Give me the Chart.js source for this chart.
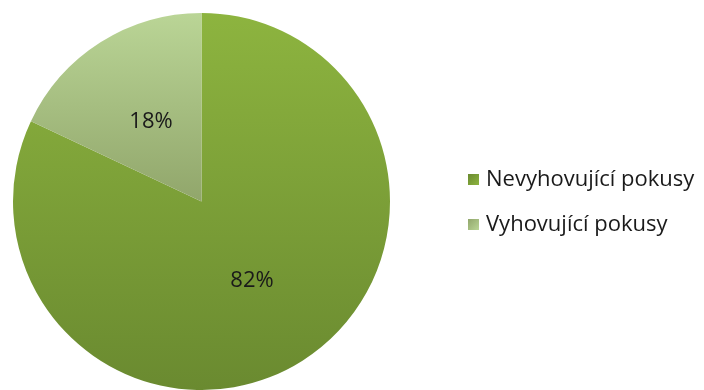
<!DOCTYPE html>
<html>
<head>
<meta charset="utf-8">
<script src="https://cdn.jsdelivr.net/npm/chart.js@4"></script>
<style>
  body { margin: 0; background: #fff; }
  #wrap { position: relative; width: 704px; height: 390px; overflow: hidden; }
  #legend { position: absolute; left: 468px; top: 162px; font-family: 'Open Sans', sans-serif; font-size: 22px; color: #1a1a1a; }
  #legend div { height: 45px; line-height: 30px; white-space: nowrap; }
  #legend span { display: inline-block; width: 11px; height: 11px; margin-right: 7px; vertical-align: 1px; }
</style>
</head>
<body>
<div id="wrap">
  <canvas id="pie" width="704" height="390"></canvas>
  <div id="legend"></div>
</div>
<script>
const labels = ['Nevyhovující pokusy', 'Vyhovující pokusy'];
const values = [82, 18];
// top / bottom colours of each slice's gradient
const topColors = ['#8db43f', '#bad596'];
const bottomColors = ['#6a8a30', '#91a66b'];

function sliceFill(ctx) {
    const area = ctx.chart.chartArea;
    if (!area) return topColors[ctx.dataIndex];
    const cy = (area.top + area.bottom) / 2;
    const r = Math.min(area.right - area.left, area.bottom - area.top) / 2;
    // the small slice lies entirely in the upper half
    const y1 = ctx.dataIndex === 0 ? cy + r : cy;
    const g = ctx.chart.ctx.createLinearGradient(0, cy - r, 0, y1);
    g.addColorStop(0, topColors[ctx.dataIndex]);
    g.addColorStop(1, bottomColors[ctx.dataIndex]);
    return g;
}

const percentLabels = {
    id: 'percentLabels',
    afterDatasetsDraw(chart) {
        const c = chart.ctx;
        const total = values.reduce((a, b) => a + b, 0);
        c.save();
        c.font = '22px "Open Sans"';
        c.fillStyle = '#1a1a1a';
        c.textAlign = 'center';
        c.textBaseline = 'middle';
        chart.getDatasetMeta(0).data.forEach((arc, i) => {
            const mid = (arc.startAngle + arc.endAngle) / 2;
            const d = arc.outerRadius * 0.5;
            const x = arc.x + Math.cos(mid) * d;
            const y = arc.y + Math.sin(mid) * d;
            c.fillText(Math.round(values[i] / total * 100) + '%', x, y);
        });
        c.restore();
    }
};

const chart = new Chart(document.getElementById('pie'), {
    type: 'pie',
    data: {
        labels: labels,
        datasets: [{
            data: values,
            backgroundColor: sliceFill,
            borderWidth: 0
        }]
    },
    options: {
        responsive: false,
        animation: false,
        layout: { padding: { left: 13, top: 13, right: 314, bottom: 0 } },
        plugins: {
            legend: { display: false },
            tooltip: { enabled: false }
        }
    },
    plugins: [percentLabels]
});

const legend = document.getElementById('legend');
labels.forEach((name, i) => {
    const row = document.createElement('div');
    row.innerHTML = `<span style="background:linear-gradient(135deg, ${bottomColors[i]}, ${topColors[i]})"></span>${name}`;
    legend.appendChild(row);
});
</script>
</body>
</html>
